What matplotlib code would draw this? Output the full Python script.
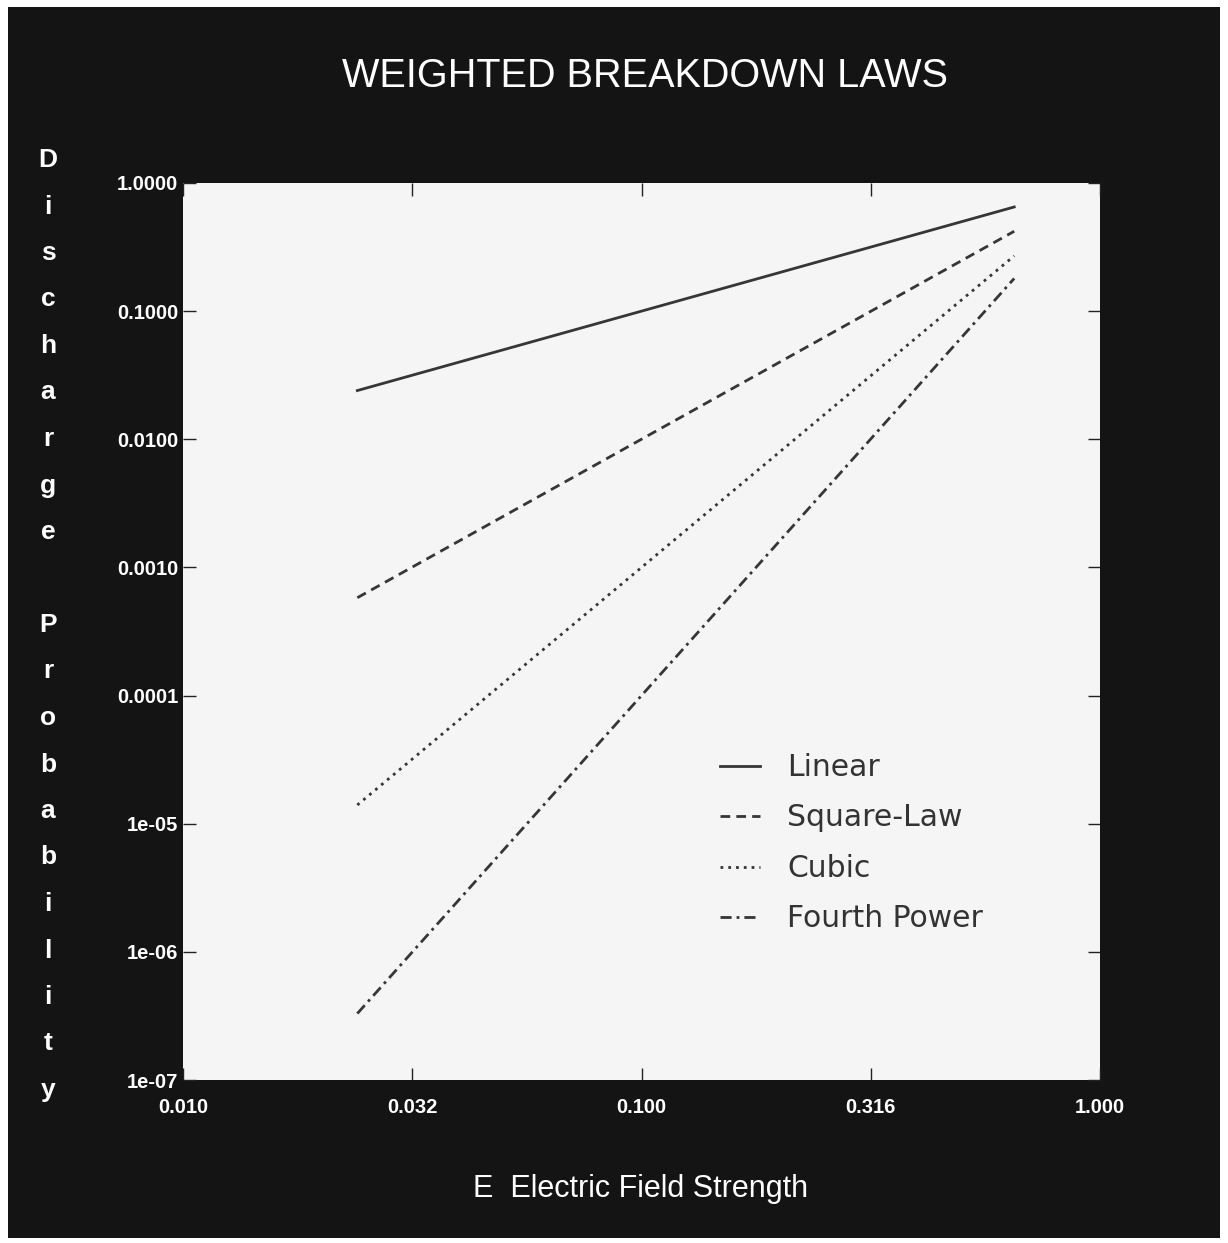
import numpy as np
import matplotlib
matplotlib.use("Agg")
import matplotlib.pyplot as plt
from matplotlib.patches import Rectangle

# values (field strength E, probabilities)
E = [0.024, 0.65]
linear = [0.024, 0.65]
square = [5.8e-4, 0.42]
cubic = [1.4e-5, 0.27]
fourth = [3.3e-7, 0.18]
names = ["Linear", "Square-Law", "Cubic", "Fourth Power"]

xticks = [0.01, 0.0316, 0.1, 0.316, 1.0]
xlabels = ["0.010", "0.032", "0.100", "0.316", "1.000"]
yticks = [1.0, 0.1, 0.01, 0.001, 0.0001, 1e-05, 1e-06, 1e-07]
ylabels = ["1.0000", "0.1000", "0.0100", "0.0010", "0.0001", "1e-05", "1e-06", "1e-07"]

W, H = 1228, 1243
fig = plt.figure(figsize=(W / 100, H / 100), dpi=100, facecolor="white")

# black frame behind everything
fig.patches.append(Rectangle((8 / W, 5 / H), 1212 / W, 1231 / H, transform=fig.transFigure,
                             facecolor="#141414", edgecolor="none", zorder=-5))

ax = fig.add_axes([183 / W, 1 - 1080 / H, 917 / W, 897 / H])
ax.set_zorder(1)
ax.set_facecolor("#f5f5f5")
ax.set_xscale("log")
ax.set_yscale("log")
ax.set_xlim(0.01, 1.0)
ax.set_ylim(1e-07, 1.0)

lc = "#363636"
ax.plot(E, linear, color=lc, lw=2.0, linestyle="-", label=names[0])
ax.plot(E, square, color=lc, lw=2.0, linestyle=(0, (3.5, 2.2)), label=names[1])
ax.plot(E, cubic, color=lc, lw=2.0, linestyle=(0, (1.0, 1.8)), label=names[2])
ax.plot(E, fourth, color=lc, lw=2.0, linestyle=(0, (4.0, 1.8, 1.0, 1.8)), label=names[3])

ax.xaxis.set_major_locator(matplotlib.ticker.FixedLocator(xticks))
ax.yaxis.set_major_locator(matplotlib.ticker.FixedLocator(yticks))
ax.xaxis.set_minor_locator(matplotlib.ticker.NullLocator())
ax.yaxis.set_minor_locator(matplotlib.ticker.NullLocator())
ax.set_xticklabels(xlabels)
ax.set_yticklabels(ylabels)

ax.tick_params(axis="both", which="major", direction="in", length=9, width=1.0,
               color="#222222", top=True, right=True, labelcolor="white")
ax.tick_params(axis="x", pad=13.0)
ax.tick_params(axis="y", pad=3.5)
for lab in ax.get_xticklabels() + ax.get_yticklabels():
    lab.set_fontfamily(["Liberation Sans", "DejaVu Sans"])
    lab.set_fontweight("bold")
    lab.set_fontsize(14.5)

for s in ax.spines.values():
    s.set_visible(False)

leg = ax.legend(loc="upper left", bbox_to_anchor=(0.5856, 0.3646), frameon=False,
                borderpad=0, borderaxespad=0, handlelength=1.35, handletextpad=0.9,
                labelspacing=0.72, prop={"family": "DejaVu Sans", "size": 21.5})
for t in leg.get_texts():
    t.set_color("#333333")

fig.text(645 / W, 1 - 76 / H, "WEIGHTED BREAKDOWN LAWS", color="white", ha="center", va="center",
         fontsize=28.5, family=["Liberation Sans", "DejaVu Sans"])

fig.text(641 / W, 1 - 1189 / H, "E  Electric Field Strength", color="white", ha="center",
         va="center", fontsize=22, family=["Liberation Sans", "DejaVu Sans"])

# stacked y label, one letter per row
ylab = "Discharge Probability"
for i, ch in enumerate(ylab):
    if ch == " ":
        continue
    fig.text(48 / W, 1 - (160 + i * 46.5) / H, ch, color="white", ha="center", va="center",
             fontsize=19, fontweight="bold", family=["Liberation Sans", "DejaVu Sans"])

fig.savefig("out.png", dpi=100, facecolor=fig.get_facecolor())
